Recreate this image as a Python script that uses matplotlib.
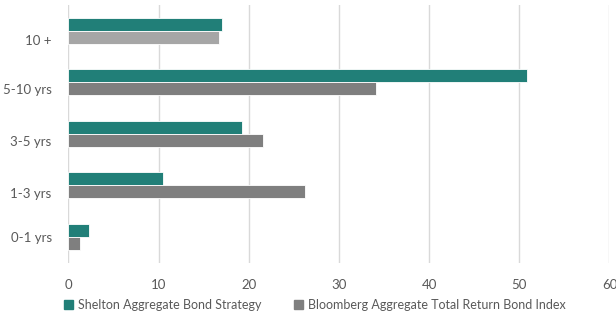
import matplotlib
matplotlib.use("Agg")
import matplotlib.pyplot as plt
from matplotlib.patches import Patch

# maturity buckets, bottom to top
categories = ["0-1 yrs", "1-3 yrs", "3-5 yrs", "5-10 yrs", "10 +"]
shelton = [2.3, 10.5, 19.2, 50.8, 17.0]
bloomberg = [1.3, 26.2, 21.6, 34.1, 16.7]
series_names = ["Shelton Aggregate Bond Strategy", "Bloomberg Aggregate Total Return Bond Index"]

teal = "#217f78"
gray = "#7f7f7f"
gray_light = "#a6a6a6"
text_col = "#595959"

plt.rcParams["font.family"] = ["Lato", "DejaVu Sans"]

fig = plt.figure(figsize=(6.16, 3.16), dpi=100)
ax = fig.add_axes([0.111, 0.169, 0.8784, 0.815])

h = 0.25
y = range(len(categories))
ax.barh([i + h / 2 for i in y], shelton, height=h, color=teal, edgecolor="white", linewidth=0.6, zorder=3)
gcols = [gray] * (len(categories) - 1) + [gray_light]
ax.barh([i - h / 2 for i in y], bloomberg, height=h, color=gcols, edgecolor="white", linewidth=0.6, zorder=3)

ax.set_xlim(0, 60)
ax.set_ylim(-0.5, 4.5)
ax.set_xticks(range(0, 61, 10))
# labels in the original sit a little below the bar pairs
label_shift = [0.0, -0.15, -0.14, -0.13, -0.18]
ax.set_yticks([i + d for i, d in zip(y, label_shift)])
ax.set_yticklabels(categories)
ax.grid(axis="x", color="#d9d9d9", linewidth=1, zorder=0)
for s in ax.spines.values():
    s.set_visible(False)
ax.tick_params(length=0, labelsize=9.5, colors=text_col)
ax.tick_params(axis="y", pad=12)
ax.tick_params(axis="x", pad=12)

handles = [Patch(color=teal), Patch(color=gray)]
fig.legend(handles, series_names, loc="lower left", bbox_to_anchor=(0.085, -0.02), ncol=2,
           frameon=False, fontsize=9, labelcolor=text_col, handlelength=0.75, handleheight=0.75,
           handletextpad=0.4, columnspacing=2.6)

fig.savefig("out.png", dpi=100)
